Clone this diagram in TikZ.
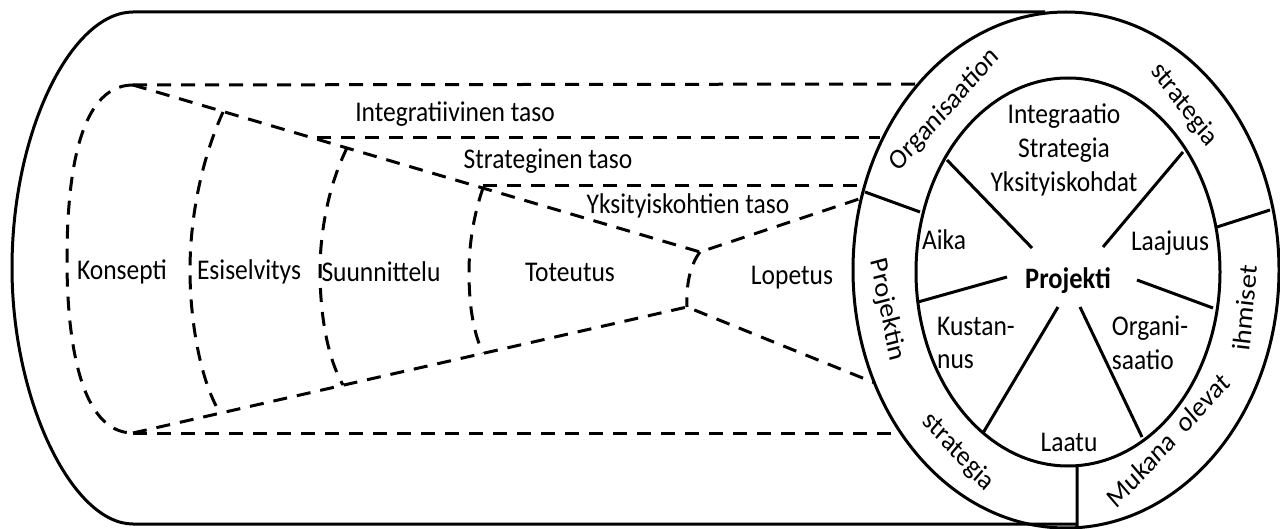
\documentclass[tikz,border=0pt]{standalone}
\usepackage{fontspec}
\setmainfont{Carlito}
\begin{document}
\begin{tikzpicture}[x=1pt,y=-1pt,
  solidline/.style={line width=3pt},
  dashline/.style={line width=3pt, dash pattern=on 14pt off 10pt},
  lbl/.style={font=\fontsize{25.5}{30}\selectfont, inner sep=0pt, yscale=1.12, align=center},
  blbl/.style={lbl, font=\fontsize{26.5}{30}\selectfont\bfseries},
]
\useasboundingbox (0,0) rectangle (1280,529);
% outer frame
\draw[solidline] (1045,12) -- (133,12) .. controls (72,12) and (12,130) .. (12,268)
   .. controls (12,400) and (72,524) .. (133,524) -- (1077,524);
\draw[solidline] (1066,270) ellipse [x radius=213pt, y radius=258pt];
\draw[solidline] (1068,272) ellipse [x radius=152pt, y radius=194pt];
% ring dividers
\coordinate (d1o) at (865,192); \coordinate (d1i) at (920,212);
\coordinate (d2o) at (1270,210); \coordinate (d2i) at (1217,227);
\coordinate (d3o) at (1077,528); \coordinate (d3i) at (1077,466);
\draw[solidline] (d1o) -- (d1i) (d2o) -- (d2i) (d3o) -- (d3i);
% spokes
\node[blbl] (proj) at (1068,281) {Projekti};
\coordinate (s1) at (947,160); \coordinate (s1c) at (1032,248);
\coordinate (s2) at (1183,152); \coordinate (s2c) at (1103,247);
\coordinate (s3) at (918,302); \coordinate (s3c) at (1007,277);
\coordinate (s4) at (1213,308); \coordinate (s4c) at (1137,280);
\coordinate (s5) at (983,433); \coordinate (s5c) at (1058,307);
\coordinate (s6) at (1142,437); \coordinate (s6c) at (1080,307);
\foreach \i in {1,...,6} \draw[solidline] (s\i) -- (s\i c);
% inner labels
\node[lbl] (isy) at (1064,150) {Integraatio\\Strategia\\Yksityiskohdat};
\node[lbl] (aika) at (944,240) {Aika};
\node[lbl] (laaj) at (1170,243) {Laajuus};
\node[lbl, align=left] (kust) at (976,343) {Kustan-\\nus};
\node[lbl, align=left] (orga) at (1150,343) {Organi-\\saatio};
\node[lbl] (laatu) at (1069,442) {Laatu};
% ring labels
\node[lbl, rotate=45] (orgs) at (945,110) {Organisaation};
\node[lbl, rotate=-50] (str1) at (1184,105) {strategia};
\node[lbl, rotate=-77] (projn) at (887,310) {Projektin};
\node[lbl, rotate=-44] (str2) at (958,452) {strategia};
\node[lbl, rotate=44] (muk) at (1168,440) {Mukana\hspace{6pt} olevat};
\node[lbl, rotate=84] (ihm) at (1245,308) {ihmiset};
% funnel
\coordinate (T0) at (133,85);
\coordinate (B0) at (133,433);
\coordinate (P1) at (700,252);
\coordinate (P2) at (687,307);
\coordinate (R1) at (862,198);
\coordinate (R2) at (875,383);
\coordinate (H1) at (917,84);
\coordinate (H2a) at (317,138); \coordinate (H2) at (880,138);
\coordinate (H3a) at (483,186); \coordinate (H3) at (864,186);
\coordinate (H4) at (899,433);
\draw[dashline] (T0) -- (H1);
\draw[dashline] (H2a) -- (H2);
\draw[dashline] (H3a) -- (H3);
\draw[dashline] (B0) -- (H4);
\draw[dashline] (T0) -- (P1) -- (R1);
\draw[dashline] (B0) -- (P2) -- (R2);
\draw[dashline] (T0) .. controls (75,85) and (67,190) .. (67,260) .. controls (67,340) and (80,433) .. (B0);
\draw[dashline] (223,112) .. controls (197,170) and (190,230) .. (190,270) .. controls (190,320) and (200,380) .. (220,413);
\draw[dashline] (347,148) .. controls (326,190) and (320,240) .. (320,270) .. controls (320,310) and (326,355) .. (343,385);
\draw[dashline] (483,188) .. controls (472,220) and (469,250) .. (469,272) .. controls (469,300) and (472,330) .. (483,353);
\draw[dashline] (P1) .. controls (690,265) and (686,285) .. (P2);
% funnel labels
\node[lbl] (kon) at (122,272) {Konsepti};
\node[lbl] (esi) at (249,272) {Esiselvitys};
\node[lbl] (suu) at (381,272) {Suunnittelu};
\node[lbl] (tot) at (570,272) {Toteutus};
\node[lbl] (lop) at (792,278) {Lopetus};
\node[lbl] (int) at (455,114) {Integratiivinen taso};
\node[lbl] (stt) at (548,161) {Strateginen taso};
\node[lbl] (yks) at (688,206) {Yksityiskohtien taso};
\end{tikzpicture}
\end{document}
